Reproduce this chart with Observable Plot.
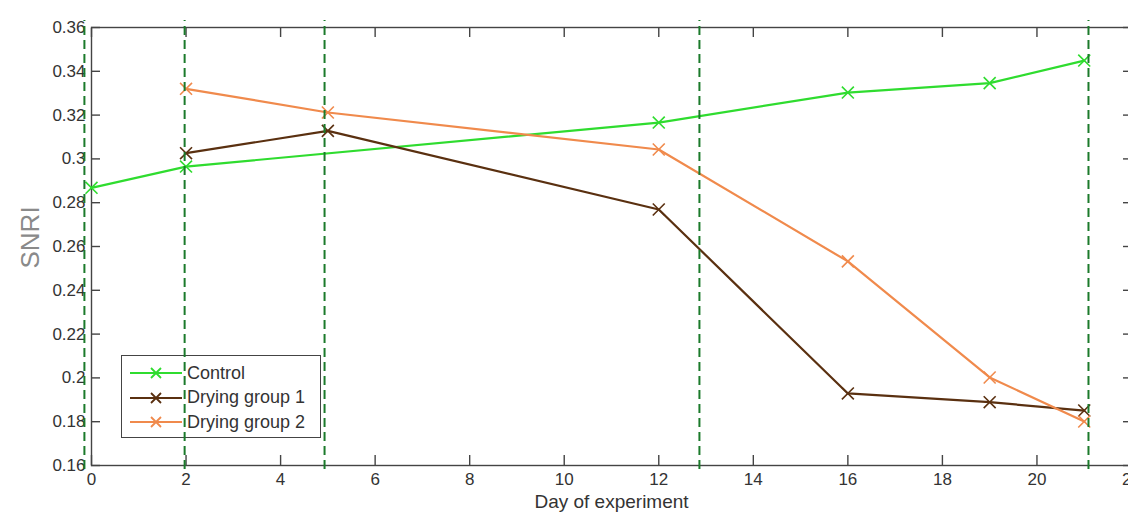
<!DOCTYPE html>
<html><head><meta charset="utf-8">
<script src="https://cdn.jsdelivr.net/npm/d3@7"></script>
<script src="https://cdn.jsdelivr.net/npm/@observablehq/plot@0.6"></script>
<style>
html,body{margin:0;padding:0;background:#fff;overflow:hidden;width:1128px;height:516px;}
#wrap{position:relative;width:1128px;height:516px;overflow:hidden;font-family:"Liberation Sans",Arial,sans-serif;}
#legend{position:absolute;left:121px;top:355px;width:198px;height:81px;border:1.5px solid #444;background:#fff;z-index:0;}
#chart{position:absolute;left:0;top:0;z-index:1;}
.row{position:absolute;left:7px;height:24px;display:flex;align-items:center;font-size:18px;color:#333;white-space:nowrap;}
.row svg{display:block;margin-right:4px;}
</style></head>
<body><div id="wrap"><div id="legend"></div><div id="chart"></div></div>
<script>
// ---- data ----
const seriesNames = ["Control", "Drying group 1", "Drying group 2"];
const seriesColors = ["#2fdc2f", "#5a3010", "#f08a4c"];
const controlDays = [0, 2, 12, 16, 19, 21];
const controlValues = [0.2868, 0.2965, 0.3166, 0.3303, 0.3346, 0.3449];
const drying1Days = [2, 5, 12, 16, 19, 21];
const drying1Values = [0.3026, 0.3128, 0.2769, 0.1929, 0.1889, 0.1851];
const drying2Days = [2, 5, 12, 16, 19, 21];
const drying2Values = [0.3320, 0.3212, 0.3043, 0.2532, 0.2002, 0.1801];
const markerLineDays = [-0.15, 1.97, 4.93, 12.86, 21.09];
const xTicks = [0, 2, 4, 6, 8, 10, 12, 14, 16, 18, 20, 22];
const yTicks = [0.16, 0.18, 0.20, 0.22, 0.24, 0.26, 0.28, 0.30, 0.32, 0.34, 0.36];
const xLabel = "Day of experiment";
const yLabel = "SNRI";

const rows = [];
[[controlDays, controlValues], [drying1Days, drying1Values], [drying2Days, drying2Values]].forEach(([ds, vs], i) => {
  ds.forEach((d, j) => rows.push({series: seriesNames[i], day: d, value: vs[j]}));
});

const colorOf = s => seriesColors[seriesNames.indexOf(s)];

const chart = Plot.plot({
  width: 1131, height: 516,
  marginLeft: 91, marginRight: 0, marginTop: 27, marginBottom: 51,
  style: {background: "transparent", maxWidth: "none", overflow: "visible",
          fontFamily: "Liberation Sans, Arial, sans-serif", fontSize: "17px", color: "#333"},
  x: {domain: [0, 22]},
  y: {domain: [0.16, 0.36]},
  marks: [
    Plot.frame({stroke: "#444", strokeWidth: 1.4}),
    Plot.axisX({anchor: "bottom", ticks: xTicks, tickSize: -10, tickPadding: 17, label: null, stroke: "#444", strokeWidth: 1.4, fill: "#333"}),
    Plot.axisX({anchor: "top", ticks: xTicks, tickSize: -9, tickFormat: () => "", label: null, stroke: "#444", strokeWidth: 1.4}),
    Plot.axisY({anchor: "left", ticks: yTicks, tickSize: -9, tickPadding: 15, tickFormat: d3.format("~g"), label: null, stroke: "#444", strokeWidth: 1.4, fill: "#333"}),
    Plot.axisY({anchor: "right", ticks: yTicks, tickSize: -9, tickFormat: () => "", label: null, stroke: "#444", strokeWidth: 1.4}),
    Plot.text([xLabel], {frameAnchor: "bottom", dy: 42, fontSize: 19, fill: "#333"}),
    Plot.text([yLabel], {frameAnchor: "left", dx: -61, dy: 22, rotate: -90, fontSize: 26, fill: "#8a8a8a"}),
    Plot.line(rows, {x: "day", y: "value", z: "series", stroke: d => colorOf(d.series), strokeWidth: 2.2}),
    Plot.dot(rows, {x: "day", y: "value", symbol: "times", r: 5.5, stroke: d => colorOf(d.series), strokeWidth: 1.6}),
    Plot.ruleX(markerLineDays, {x: d => d, y1: 0.1582, y2: 0.3632, stroke: "#1b7a2b", strokeWidth: 2, strokeDasharray: "9,5"})
  ]
});
document.getElementById("chart").appendChild(chart);

// legend
const leg = document.getElementById("legend");
seriesNames.forEach((name, i) => {
  const row = document.createElement("div");
  row.className = "row";
  row.style.top = (5 + i * 24.5) + "px";
  const c = seriesColors[i];
  row.innerHTML = `<svg width="54" height="24"><line x1="1" x2="53" y1="12" y2="12" stroke="${c}" stroke-width="2.2"/>` +
    `<path d="M22,7L32,17M22,17L32,7" stroke="${c}" stroke-width="1.8"/></svg><span>${name}</span>`;
  leg.appendChild(row);
});
</script>
</body></html>
